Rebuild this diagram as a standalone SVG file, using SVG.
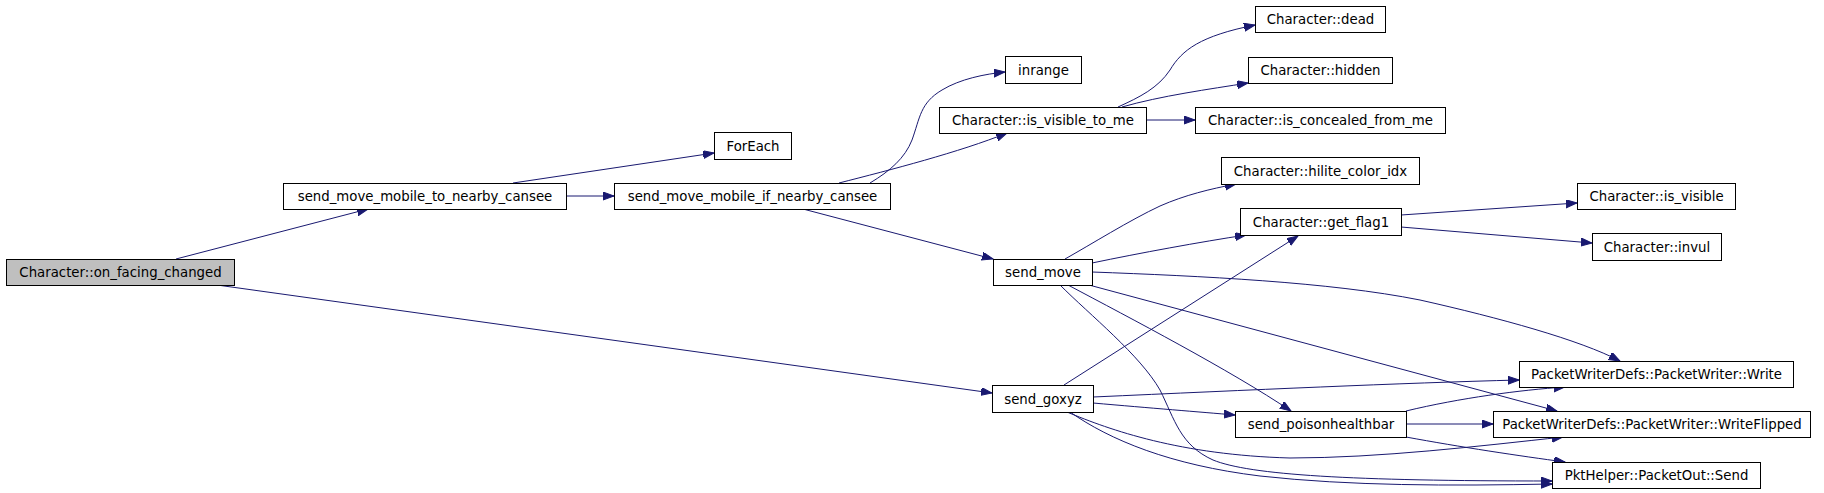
<svg xmlns="http://www.w3.org/2000/svg" width="1824" height="493" viewBox="0 0 1824 493">
<style>
.n rect{fill:#fff;stroke:#000;stroke-width:1}
.n.root rect{fill:#bfbfbf}
.n text{font-family:"DejaVu Sans",sans-serif;font-size:13.3px;fill:#000;text-anchor:middle}
.e path{fill:none;stroke:#191970;stroke-width:1;marker-end:url(#ah)}
</style>
<defs>
<marker id="ah" markerUnits="userSpaceOnUse" markerWidth="12" markerHeight="9" refX="11" refY="4" orient="auto">
<path d="M0,0 L11,4 L0,8 z" fill="#191970" stroke="#191970" stroke-width="1"/>
</marker>
</defs>
<rect width="1824" height="493" fill="#fff"/>
<g id="edges" class="e">
<path d="M176,259 L368,209"/>
<path d="M217,285 L992,393"/>
<path d="M513,183 L714,153"/>
<path d="M566,196 L614,196"/>
<path d="M870,183 C890,171 905,158 912,140 C920,118 920,103 942,90 C960,79 985,74 1005,72"/>
<path d="M839,183 C890,170 960,152 1007,133"/>
<path d="M803,209 L993,259"/>
<path d="M1118,107 C1140,97 1158,88 1170,70 C1182,50 1200,36 1255,25"/>
<path d="M1122,107 C1160,96 1210,89 1248,83"/>
<path d="M1146,120 L1195,120"/>
<path d="M1065,259 C1090,245 1130,220 1160,206 C1185,195 1210,189 1236,184"/>
<path d="M1092,263 C1140,253 1200,242 1246,235"/>
<path d="M1401,215 L1577,203"/>
<path d="M1401,227 L1592,243"/>
<path d="M1092,272 C1200,276 1330,282 1420,300 C1500,318 1580,340 1620,361"/>
<path d="M1089,285 L1557,411"/>
<path d="M1068,285 C1130,318 1230,370 1291,411"/>
<path d="M1060,285 C1090,315 1140,355 1160,390 C1175,420 1180,445 1213,460 C1250,475 1350,481 1552,481"/>
<path d="M1064,385 L1298,236"/>
<path d="M1093,397 C1250,390 1400,383 1519,380"/>
<path d="M1093,403 C1150,408 1200,412 1235,415"/>
<path d="M1067,412 C1110,430 1180,455 1290,458 C1380,458 1480,446 1563,437"/>
<path d="M1070,412 C1110,440 1170,465 1260,476 C1350,486 1450,486 1552,484"/>
<path d="M1406,411 C1460,398 1520,390 1565,387"/>
<path d="M1406,424 L1493,424"/>
<path d="M1406,437 C1460,447 1520,456 1565,462"/>
</g>
<g id="n_on_facing_changed" class="n root"><rect x="6.5" y="259.5" width="228" height="26"/><text x="120.5" y="277">Character::on_facing_changed</text></g>
<g id="n_to_nearby" class="n"><rect x="283.5" y="183.5" width="283" height="26"/><text x="425" y="201">send_move_mobile_to_nearby_cansee</text></g>
<g id="n_foreach" class="n"><rect x="714.5" y="132.5" width="77" height="27"/><text x="753" y="150.5">ForEach</text></g>
<g id="n_if_nearby" class="n"><rect x="614.5" y="183.5" width="276" height="26"/><text x="752.5" y="201">send_move_mobile_if_nearby_cansee</text></g>
<g id="n_inrange" class="n"><rect x="1005.5" y="56.5" width="76" height="27"/><text x="1043.5" y="74.5">inrange</text></g>
<g id="n_is_visible_to_me" class="n"><rect x="939.5" y="107.5" width="207" height="26"/><text x="1043" y="125">Character::is_visible_to_me</text></g>
<g id="n_dead" class="n"><rect x="1255.5" y="6.5" width="130" height="26"/><text x="1320.5" y="24">Character::dead</text></g>
<g id="n_hidden" class="n"><rect x="1248.5" y="57.5" width="144" height="26"/><text x="1320.5" y="75">Character::hidden</text></g>
<g id="n_concealed" class="n"><rect x="1195.5" y="107.5" width="250" height="26"/><text x="1320.5" y="125">Character::is_concealed_from_me</text></g>
<g id="n_hilite" class="n"><rect x="1221.5" y="157.5" width="198" height="27"/><text x="1320.5" y="175.5">Character::hilite_color_idx</text></g>
<g id="n_get_flag1" class="n"><rect x="1240.5" y="208.5" width="161" height="27"/><text x="1321" y="226.5">Character::get_flag1</text></g>
<g id="n_is_visible" class="n"><rect x="1577.5" y="183.5" width="158" height="26"/><text x="1656.5" y="201">Character::is_visible</text></g>
<g id="n_invul" class="n"><rect x="1592.5" y="233.5" width="129" height="27"/><text x="1657" y="251.5">Character::invul</text></g>
<g id="n_send_move" class="n"><rect x="993.5" y="259.5" width="99" height="26"/><text x="1043" y="277">send_move</text></g>
<g id="n_send_goxyz" class="n"><rect x="992.5" y="385.5" width="101" height="27"/><text x="1043" y="403.5">send_goxyz</text></g>
<g id="n_write" class="n"><rect x="1519.5" y="361.5" width="274" height="26"/><text x="1656.5" y="379">PacketWriterDefs::PacketWriter::Write</text></g>
<g id="n_poison" class="n"><rect x="1235.5" y="411.5" width="171" height="26"/><text x="1321" y="429">send_poisonhealthbar</text></g>
<g id="n_writeflipped" class="n"><rect x="1493.5" y="411.5" width="317" height="26"/><text x="1652" y="429">PacketWriterDefs::PacketWriter::WriteFlipped</text></g>
<g id="n_send" class="n"><rect x="1552.5" y="462.5" width="208" height="26"/><text x="1656.5" y="480">PktHelper::PacketOut::Send</text></g>
</svg>
